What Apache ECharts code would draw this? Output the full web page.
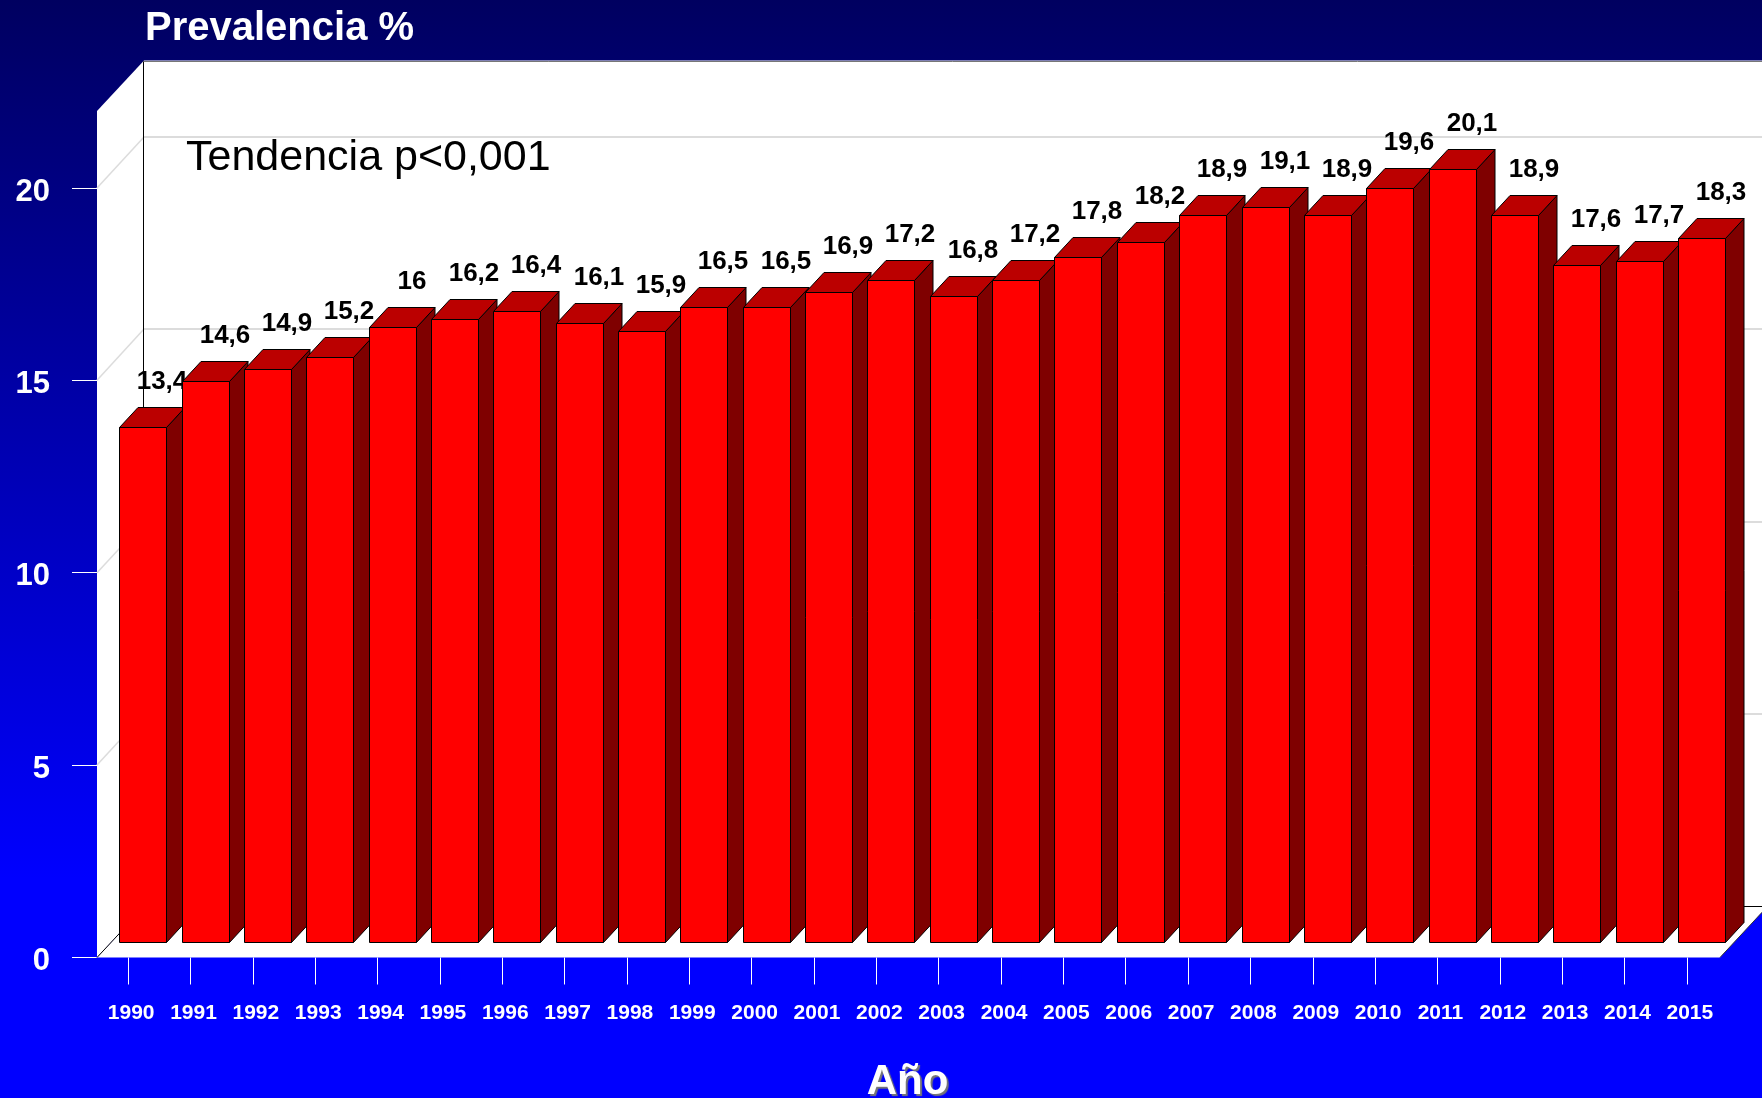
<!DOCTYPE html>
<html>
<head>
<meta charset="utf-8">
<title>Prevalencia %</title>
<script src="https://cdn.jsdelivr.net/npm/echarts@6/dist/echarts.min.js"></script>
<style>
  html, body { margin: 0; padding: 0; background: #0000ff; }
  #chart { width: 1762px; height: 1098px; }
</style>
</head>
<body>
<div id="chart"></div>
<script>
const years = ['1990', '1991', '1992', '1993', '1994', '1995', '1996', '1997', '1998', '1999', '2000', '2001', '2002',
  '2003', '2004', '2005', '2006', '2007', '2008', '2009', '2010', '2011', '2012', '2013', '2014', '2015'];
const prevalence = [13.4, 14.6, 14.9, 15.2, 16, 16.2, 16.4, 16.1, 15.9, 16.5, 16.5, 16.9, 17.2,
  16.8, 17.2, 17.8, 18.2, 18.9, 19.1, 18.9, 19.6, 20.1, 18.9, 17.6, 17.7, 18.3];
const yTicks = [0, 5, 10, 15, 20];
const yMax = 22;

const FONT = '"Liberation Sans", Arial, sans-serif';

// fondo en perspectiva: desplazamiento del plano trasero
const WALL_DX = 47;
const WALL_DY = 50.5;
const FLOOR_EXTRA = 2;
// barras: separadas del borde frontal del suelo
const BAR_INSET_X = -8.9;
const BAR_INSET_Y = 15.2;
const BAR_DX = 18.5;
const BAR_DY = 20;

const crisp = v => Math.round(v) + 0.5;

const chart = echarts.init(document.getElementById('chart'));

// paredes y suelo
function renderWalls(params, api) {
  const origin = api.coord([0, 0]);
  const left = params.coordSys.x;
  const right = left + params.coordSys.width + FLOOR_EXTRA;
  const y0 = origin[1];
  const yTop = api.coord([0, yMax])[1];
  const backX = left + WALL_DX;
  const backY0 = y0 - WALL_DY;
  const backTop = yTop - WALL_DY;
  const white = { fill: '#fff', stroke: null };
  const children = [
    { type: 'polygon', shape: { points: [[backX, backTop], [1762, backTop], [1762, backY0], [backX, backY0]] }, style: white },
    { type: 'polygon', shape: { points: [[left, yTop], [backX, backTop], [backX, backY0], [left, y0]] }, style: white },
    { type: 'polygon', shape: { points: [[left, y0], [backX, backY0], [right + WALL_DX, backY0], [right, y0]] }, style: white }
  ];
  yTicks.slice(1).forEach(t => {
    const y = api.coord([0, t])[1];
    const yBack = Math.floor(y - WALL_DY);
    children.push({ type: 'line', shape: { x1: left, y1: y, x2: backX, y2: yBack }, style: { stroke: '#dcdcdc', lineWidth: 1.5 } });
    children.push({ type: 'line', shape: { x1: backX, y1: yBack, x2: 1762, y2: yBack }, style: { stroke: '#dcdcdc', lineWidth: 2 } });
  });
  const edge = (x1, y1, x2, y2, stroke) => children.push({ type: 'line', shape: { x1, y1, x2, y2 }, style: { stroke, lineWidth: 1 } });
  const lineX = backX - 0.5;
  edge(lineX, crisp(backTop), 1762, crisp(backTop), '#777');
  edge(lineX, crisp(backTop), lineX, backY0, '#000');
  edge(left, y0, backX, backY0, '#000');
  edge(lineX, backY0 - 0.5, 1762, backY0 - 0.5, '#000');
  edge(right, y0, right + WALL_DX, backY0, '#333');
  return { type: 'group', children };
}

// cada barra con su etiqueta, en orden, para que la siguiente la tape (13,4)
function renderBar(params, api) {
  const idx = api.value(0);
  const val = api.value(1);
  const band = api.size([1, 0])[0];
  const x = crisp(api.coord([idx, 0])[0] + BAR_INSET_X);
  const w = Math.round(band * 0.75);
  const yBase = crisp(api.coord([idx, 0])[1] - BAR_INSET_Y);
  const yTop = crisp(api.coord([idx, val])[1] - BAR_INSET_Y);
  const dx = BAR_DX;
  const dy = BAR_DY;
  const border = { stroke: '#000', lineWidth: 1, lineJoin: 'miter' };
  return {
    type: 'group',
    children: [
      {
        type: 'text',
        style: {
          x: x + w / 2 + 19,
          y: yTop - 46,
          text: String(val).replace('.', ','),
          fill: '#000',
          font: 'bold 26px ' + FONT,
          align: 'center',
          verticalAlign: 'middle'
        }
      },
      { type: 'polygon', shape: { points: [[x + w, yTop], [x + w + dx, yTop - dy], [x + w + dx, yBase - dy], [x + w, yBase]] }, style: { fill: '#7f0000', ...border } },
      { type: 'polygon', shape: { points: [[x, yTop], [x + dx, yTop - dy], [x + w + dx, yTop - dy], [x + w, yTop]] }, style: { fill: '#bb0000', ...border } },
      { type: 'rect', shape: { x, y: yTop, width: w, height: yBase - yTop }, style: { fill: '#ff0000', ...border } }
    ]
  };
}

const option = {
  animation: false,
  backgroundColor: {
    type: 'linear', x: 0, y: 0, x2: 0, y2: 1,
    colorStops: [
      { offset: 0, color: '#000060' },
      { offset: 0.8, color: '#0000ff' },
      { offset: 1, color: '#0000ff' }
    ]
  },
  title: {
    text: 'Prevalencia %',
    left: 140,
    top: 4,
    textStyle: { color: '#fff', fontFamily: FONT, fontWeight: 'bold', fontSize: 40 }
  },
  grid: { left: 97, right: 44, top: 111, bottom: 140.5, outerBoundsMode: 'none' },
  xAxis: {
    type: 'category',
    data: years,
    name: 'Año',
    nameLocation: 'middle',
    nameGap: 104,
    nameTextStyle: {
      color: '#fff', fontFamily: FONT, fontWeight: 'bold', fontSize: 42,
      textShadowColor: '#777', textShadowBlur: 1, textShadowOffsetX: 2, textShadowOffsetY: 2
    },
    axisLine: { show: false },
    axisTick: { show: true, alignWithLabel: true, length: 27, lineStyle: { color: '#fff', width: 1 } },
    axisLabel: { color: '#fff', fontFamily: FONT, fontWeight: 'bold', fontSize: 21, margin: 45, interval: 0, padding: [0, 0, 0, 6] }
  },
  yAxis: {
    type: 'value',
    min: 0,
    max: yMax,
    interval: 5,
    splitLine: { show: false },
    axisLine: { show: false },
    axisTick: { show: true, length: 25, customValues: yTicks, lineStyle: { color: '#fff', width: 1 } },
    axisLabel: { color: '#fff', fontFamily: FONT, fontWeight: 'bold', fontSize: 31, margin: 47, customValues: yTicks, verticalAlign: 'top', lineHeight: 8 }
  },
  graphic: [{
    type: 'text',
    left: 186,
    top: 137,
    z: 10,
    style: { text: 'Tendencia p<0,001', fill: '#000', font: '43px ' + FONT }
  }],
  series: [
    { type: 'custom', silent: true, z: 1, clip: false, data: [[0, 0]], renderItem: renderWalls },
    { type: 'custom', silent: true, z: 2, clip: false, data: prevalence.map((v, i) => [i, v]), renderItem: renderBar }
  ]
};

chart.setOption(option);
</script>
</body>
</html>
